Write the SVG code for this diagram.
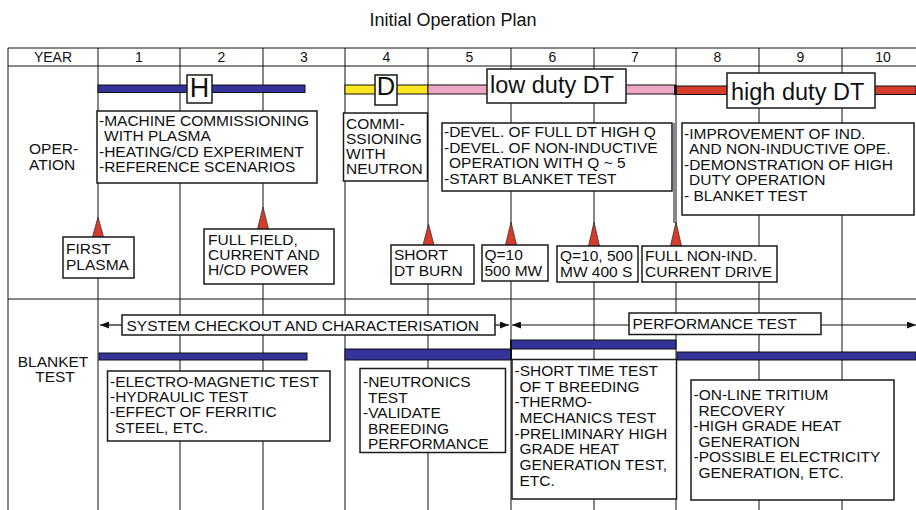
<svg xmlns="http://www.w3.org/2000/svg" width="916" height="510" viewBox="0 0 916 510">
<defs>
<style>
text{font-family:"Liberation Sans",Arial,Helvetica,sans-serif;fill:#111;}
.t{font-size:15.5px;}
.hd{font-size:14px;text-anchor:middle;}
.big{font-size:23.5px;}
.grid{stroke:#111;stroke-width:1;fill:none;}
.box{fill:#fff;stroke:#1a1a1a;stroke-width:1.5;}
.blue{fill:#333399;stroke:#111;stroke-width:1;}
.yel{fill:#ffe422;stroke:#111;stroke-width:1;}
.pink{fill:#efa7c7;stroke:#111;stroke-width:1;}
.red{fill:#d63c2a;stroke:#111;stroke-width:1;}
.tri{fill:#d63c2a;stroke:#333;stroke-width:0.8;}
.arr{stroke:#111;stroke-width:1.2;fill:none;marker-end:url(#ah);}
</style>
<marker id="ah" viewBox="0 0 9 7" refX="9" refY="3.5" markerWidth="9" markerHeight="7" markerUnits="userSpaceOnUse" orient="auto">
<path d="M0,0 L9,3.5 L0,7 z" fill="#111"/>
</marker>
</defs>
<rect x="0" y="0" width="916" height="510" fill="#fff"/>
<text x="453" y="26" style="font-size:18px;text-anchor:middle">Initial Operation Plan</text>

<g id="grid" class="grid">
<path d="M8 48H916M8 66H916M8 299H916M8 48V510"/>
<path d="M98 48V510M180 48V510M263 48V510M345 48V510M428 48V510M511 48V510M594 48V510M676 48V510M759 48V510M842 48V510"/>
<path d="M674 123V223"/>
</g>

<g id="header">
<text class="hd" x="53" y="62">YEAR</text>
<text class="hd" x="139" y="62">1</text>
<text class="hd" x="221.5" y="62">2</text>
<text class="hd" x="304" y="62">3</text>
<text class="hd" x="386.5" y="62">4</text>
<text class="hd" x="469.5" y="62">5</text>
<text class="hd" x="552.5" y="62">6</text>
<text class="hd" x="635" y="62">7</text>
<text class="hd" x="717.5" y="62">8</text>
<text class="hd" x="800.5" y="62">9</text>
<text class="hd" x="883" y="62">10</text>
</g>

<g id="row-labels">
<text class="t" x="29" y="154">OPER-</text>
<text class="t" x="29" y="169.5">ATION</text>
<text class="t" x="53" y="367" text-anchor="middle">BLANKET</text>
<text class="t" x="55" y="382" text-anchor="middle">TEST</text>
</g>

<g id="phase-bars">
<rect class="blue" x="98" y="85" width="207" height="7.5"/>
<rect class="yel" x="345" y="85" width="83" height="9"/>
<rect class="pink" x="428" y="85" width="247" height="9"/>
<rect class="red" x="676" y="86" width="240" height="8.5"/>
<rect x="674" y="85" width="3" height="10" fill="#111"/>
</g>

<g id="phase-H">
<rect class="box" x="187" y="75" width="25" height="28"/>
<text x="199.5" y="96.5" style="font-size:27px;text-anchor:middle">H</text>
</g>
<g id="phase-D">
<rect class="box" x="375" y="75" width="22" height="30"/>
<text x="386" y="95" style="font-size:25.5px;text-anchor:middle">D</text>
</g>
<g id="phase-low">
<rect class="box" x="487" y="69" width="139" height="34"/>
<text class="big" x="490" y="93">low duty DT</text>
</g>
<g id="phase-high">
<rect class="box" x="727" y="73" width="148" height="35"/>
<text class="big" x="731" y="100">high duty DT</text>
</g>

<g id="op-machine">
<rect class="box" x="97" y="111" width="220" height="72"/>
<text class="t"><tspan x="99" y="125.5">-MACHINE COMMISSIONING</tspan><tspan x="104" y="141">WITH PLASMA</tspan><tspan x="99" y="156.5">-HEATING/CD EXPERIMENT</tspan><tspan x="99" y="172">-REFERENCE SCENARIOS</tspan></text>
</g>
<g id="op-commissioning">
<rect class="box" x="343.5" y="113" width="84" height="68"/>
<text class="t"><tspan x="346" y="128.5">COMMI-</tspan><tspan x="346" y="143.5">SSIONING</tspan><tspan x="346" y="158.5">WITH</tspan><tspan x="346" y="173.5">NEUTRON</tspan></text>
</g>
<g id="op-devel">
<rect class="box" x="442" y="123" width="230" height="68"/>
<text class="t"><tspan x="444" y="137">-DEVEL. OF FULL DT HIGH Q</tspan><tspan x="444" y="152.5">-DEVEL. OF NON-INDUCTIVE</tspan><tspan x="449" y="168">OPERATION WITH Q ~ 5</tspan><tspan x="444" y="183.5">-START BLANKET TEST</tspan></text>
</g>
<g id="op-improvement">
<rect class="box" x="682" y="123" width="232" height="92"/>
<text class="t"><tspan x="684" y="138.5">-IMPROVEMENT OF IND.</tspan><tspan x="689" y="154">AND NON-INDUCTIVE OPE.</tspan><tspan x="684" y="169.5">-DEMONSTRATION OF HIGH</tspan><tspan x="689" y="185">DUTY OPERATION</tspan><tspan x="684" y="200.5">- BLANKET TEST</tspan></text>
</g>

<g id="ms-first-plasma">
<polygon class="tri" points="92.5,237 98,217 103.5,237"/>
<rect class="box" x="63" y="237" width="71" height="41"/>
<text class="t"><tspan x="66" y="254">FIRST</tspan><tspan x="66" y="269.5">PLASMA</tspan></text>
</g>
<g id="ms-full-field">
<polygon class="tri" points="257.5,229 263,207 268.5,229"/>
<rect class="box" x="204" y="229" width="130" height="55"/>
<text class="t"><tspan x="208" y="244.5">FULL FIELD,</tspan><tspan x="208" y="259.5">CURRENT AND</tspan><tspan x="208" y="274.5">H/CD POWER</tspan></text>
</g>
<g id="ms-short-dt">
<polygon class="tri" points="423,245 428.5,224 434,245"/>
<rect class="box" x="391" y="245" width="83" height="39"/>
<text class="t"><tspan x="394" y="260">SHORT</tspan><tspan x="394" y="276">DT BURN</tspan></text>
</g>
<g id="ms-q10">
<polygon class="tri" points="505.5,245 511,222 516.5,245"/>
<rect class="box" x="482" y="245" width="66" height="36"/>
<text class="t"><tspan x="484.5" y="260">Q=10</tspan><tspan x="484.5" y="276">500 MW</tspan></text>
</g>
<g id="ms-q10-400s">
<polygon class="tri" points="588.5,246 594,222 599.5,246"/>
<rect class="box" x="557" y="246" width="81" height="36"/>
<text class="t"><tspan x="560" y="261">Q=10, 500</tspan><tspan x="560" y="276.5">MW 400 S</tspan></text>
</g>
<g id="ms-full-nonind">
<polygon class="tri" points="670.5,246 676,222 681.5,246"/>
<rect class="box" x="642" y="246" width="135" height="36"/>
<text class="t"><tspan x="645" y="261">FULL NON-IND.</tspan><tspan x="645" y="276.5">CURRENT DRIVE</tspan></text>
</g>

<g id="blanket-bars">
<rect class="blue" x="99" y="353" width="208" height="7"/>
<rect class="blue" x="345" y="349" width="166" height="11"/>
<rect class="blue" x="511" y="340" width="165" height="9"/>
<rect class="blue" x="677" y="352" width="239" height="8"/>
<path d="M511 340V360" stroke="#111" stroke-width="2"/>
</g>

<g id="connectors">
<line class="arr" x1="122" y1="325" x2="100" y2="325"/>
<line class="arr" x1="495" y1="325" x2="509" y2="325"/>
<line class="arr" x1="629" y1="325" x2="512" y2="325"/>
<line class="arr" x1="821" y1="325" x2="916" y2="325"/>
</g>

<g id="span-checkout">
<rect class="box" x="122" y="315" width="373" height="20"/>
<text class="t" x="126.5" y="330.5">SYSTEM CHECKOUT AND CHARACTERISATION</text>
</g>
<g id="span-performance">
<rect class="box" x="629" y="313" width="192" height="21.5"/>
<text class="t" x="632.5" y="328.5">PERFORMANCE TEST</text>
</g>

<g id="bt-electro">
<rect class="box" x="107.5" y="371" width="222.5" height="70"/>
<text class="t"><tspan x="110" y="386.5">-ELECTRO-MAGNETIC TEST</tspan><tspan x="110" y="401.5">-HYDRAULIC TEST</tspan><tspan x="110" y="417">-EFFECT OF FERRITIC</tspan><tspan x="115" y="432.5">STEEL, ETC.</tspan></text>
</g>
<g id="bt-neutronics">
<rect class="box" x="360" y="368.5" width="145.5" height="84"/>
<text class="t"><tspan x="363" y="387">-NEUTRONICS</tspan><tspan x="368" y="402.5">TEST</tspan><tspan x="363" y="418">-VALIDATE</tspan><tspan x="368" y="433.5">BREEDING</tspan><tspan x="368" y="449">PERFORMANCE</tspan></text>
</g>
<g id="bt-short-time">
<rect class="box" x="512" y="359.5" width="164.5" height="139.5"/>
<text class="t"><tspan x="514.5" y="376">-SHORT TIME TEST</tspan><tspan x="519.5" y="391.7">OF T BREEDING</tspan><tspan x="514.5" y="407.3">-THERMO-</tspan><tspan x="519.5" y="423">MECHANICS TEST</tspan><tspan x="514.5" y="438.7">-PRELIMINARY HIGH</tspan><tspan x="519.5" y="454.3">GRADE HEAT</tspan><tspan x="519.5" y="470">GENERATION TEST,</tspan><tspan x="519.5" y="485.7">ETC.</tspan></text>
</g>
<g id="bt-online">
<rect class="box" x="691" y="380" width="203" height="120"/>
<text class="t"><tspan x="693.5" y="400">-ON-LINE TRITIUM</tspan><tspan x="698.5" y="415.5">RECOVERY</tspan><tspan x="693.5" y="431">-HIGH GRADE HEAT</tspan><tspan x="698.5" y="446.5">GENERATION</tspan><tspan x="693.5" y="462">-POSSIBLE ELECTRICITY</tspan><tspan x="698.5" y="477.5">GENERATION, ETC.</tspan></text>
</g>
</svg>
